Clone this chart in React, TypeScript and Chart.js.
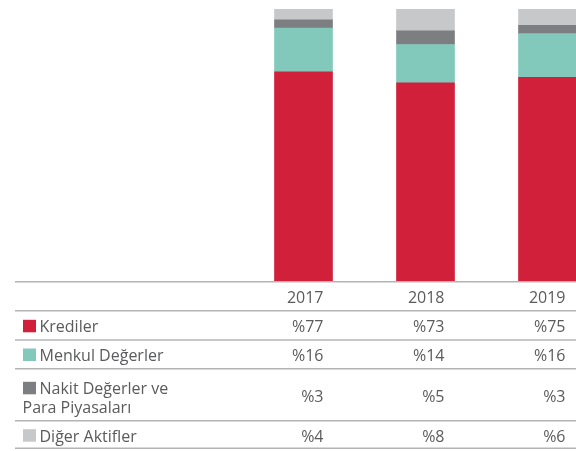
import React, { useEffect, useRef } from "react";
import { Chart, registerables } from "chart.js";

Chart.register(...registerables);

const years = ["2017", "2018", "2019"];
const krediler = [77, 73, 75];
const menkul = [16, 14, 16];
const nakit = [3, 5, 3];
const diger = [4, 8, 6];
const seriesNames = ["Krediler", "Menkul Değerler", "Nakit Değerler ve\nPara Piyasaları", "Diğer Aktifler"];
const seriesColors = ["#d0203a", "#82c9bc", "#7d7e82", "#c7c8ca"];

const FONT = '16px "Open Sans", "Noto Sans", sans-serif';
const TEXT = "#5a5b5d";
const LINE = "#b3b4b6";

const tablePlugin = {
  id: "tablePlugin",
  afterDraw(chart: any) {
    const ctx = chart.ctx;
    const colRight = [323.5, 444.5, 565.5];
    const lineYs = [281.7, 310.7, 340, 368.8, 420.7, 448.3];
    const rowBase = [332.3, 361, 402, 441.7];
    const labelBase = [[332.3], [361], [394.3, 412.7], [441.7]];
    const allSeries = [krediler, menkul, nakit, diger];
    ctx.save();
    ctx.strokeStyle = LINE;
    ctx.lineWidth = 1.4;
    lineYs.forEach((y) => {
      ctx.beginPath();
      ctx.moveTo(15, y);
      ctx.lineTo(576, y);
      ctx.stroke();
    });
    ctx.font = FONT;
    ctx.fillStyle = TEXT;
    ctx.textBaseline = "alphabetic";
    ctx.textAlign = "right";
    years.forEach((yr, i) => ctx.fillText(yr, colRight[i], 303.3));
    allSeries.forEach((arr, r) => {
      arr.forEach((v, i) => {
        ctx.fillStyle = TEXT;
        ctx.textAlign = "right";
        ctx.fillText("%" + v, colRight[i], rowBase[r]);
      });
      ctx.fillStyle = seriesColors[r];
      ctx.fillRect(23, labelBase[r][0] - 12.5, 13, 12.5);
      ctx.fillStyle = TEXT;
      ctx.textAlign = "left";
      const lines = seriesNames[r].split("\n");
      lines.forEach((ln, k) => {
        ctx.fillText(ln, k === 0 ? 39.5 : 22.5, labelBase[r][k]);
      });
    });
    ctx.restore();
  },
};

export default function App() {
  const ref = useRef<HTMLCanvasElement>(null);
  useEffect(() => {
    document.body.style.margin = "0";
    const chart = new Chart(ref.current!, {
      type: "bar",
      data: {
        labels: years,
        datasets: [krediler, menkul, nakit, diger].map((d, i) => ({
          label: seriesNames[i],
          data: d,
          backgroundColor: seriesColors[i],
          borderWidth: 0,
          barThickness: 58,
        })),
      },
      options: {
        responsive: false,
        animation: false,
        layout: { padding: { left: 242.5, right: 11.5, top: 9, bottom: 169 } },
        plugins: { legend: { display: false }, tooltip: { enabled: false } },
        scales: {
          x: { stacked: true, display: false },
          y: { stacked: true, display: false, min: 0, max: 100 },
        },
      },
      plugins: [tablePlugin],
    });
    return () => chart.destroy();
  }, []);
  return (
    <div style={{ width: 576, height: 451, overflow: "hidden", background: "#fff" }}>
      <canvas ref={ref} width={620} height={451} style={{ display: "block" }} />
    </div>
  );
}
